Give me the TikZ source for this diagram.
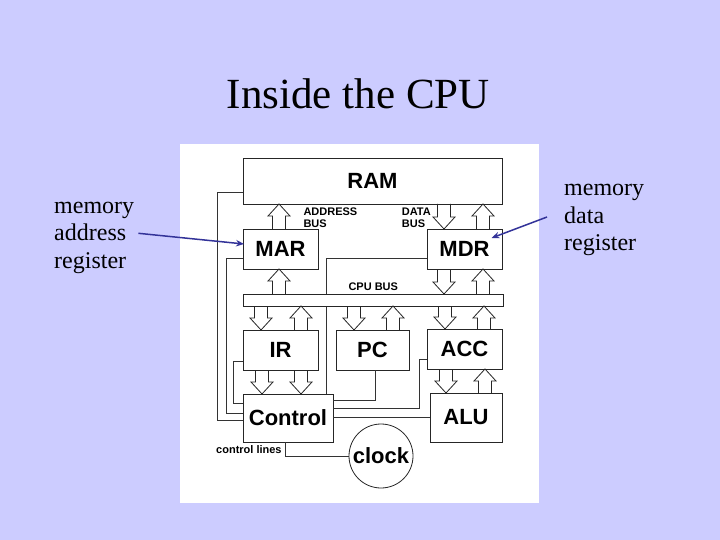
\documentclass[tikz,border=0pt]{standalone}
\usepackage{fontspec}
\setmainfont{Liberation Serif}
\newfontfamily\hv{Liberation Sans}
\usetikzlibrary{calc,arrows.meta}
\definecolor{slidebg}{HTML}{CCCCFF}
\definecolor{navy}{HTML}{333399}
\tikzset{
  box/.style={draw=black!85, line width=0.8pt, fill=white, inner sep=0pt, outer sep=0pt,
    anchor=north west, font=\hv\bfseries\fontsize{22}{26}\selectfont},
  wire/.style={draw=black!80, line width=0.8pt},
  barr/.style={draw=black!85, line width=0.8pt, line join=miter},
  small/.style={inner sep=0pt, anchor=base west, font=\hv\bfseries\fontsize{11}{12.3}\selectfont},
  pointer/.style={draw=navy, line width=1.5pt, -{Stealth[length=8pt,width=6.5pt]}},
  side/.style={inner sep=0pt, font=\fontsize{24}{27.5}\selectfont}
}
\newcommand\barrow[3]{%
  \draw[barr] let \p1=(#2), \p2=(#3), \n1={(\y2>\y1)*2-1} in
   (#1pt-6.5pt,\y1) -- (#1pt-6.5pt,\y2-\n1*12pt) -- (#1pt-11pt,\y2-\n1*12pt) -- (#1pt,\y2)
   -- (#1pt+11pt,\y2-\n1*12pt) -- (#1pt+6.5pt,\y2-\n1*12pt) -- (#1pt+6.5pt,\y1);}
\begin{document}
\begin{tikzpicture}[x=1pt,y=-1pt]
\fill[slidebg] (0,0) rectangle (720,540);
\useasboundingbox (0,0) rectangle (720,540);
\fill[white] (180,144) rectangle (539,503);

\node[inner sep=0pt, anchor=base, font=\fontsize{43}{49}\selectfont] (title) at (358.3,108.3) {Inside the CPU};

% boxes
\node[box, minimum width=259pt, minimum height=46pt] (RAM) at (243,158) {RAM};
\node[box, minimum width=75pt, minimum height=40pt] (MAR) at (243,229) {MAR};
\node[box, minimum width=75pt, minimum height=40pt] (MDR) at (427,229) {MDR};
\node[box, minimum width=75pt, minimum height=40pt] (IR) at (243,330) {IR};
\node[box, minimum width=73pt, minimum height=40pt] (PC) at (336,330) {PC};
\node[box, minimum width=75pt, minimum height=40pt] (ACC) at (427,329) {ACC};
\node[box, minimum width=90pt, minimum height=48pt] (Control) at (243,394) {Control};
\node[box, minimum width=72pt, minimum height=49pt] (ALU) at (430,393) {ALU};
\node[box, circle, anchor=center, minimum size=64pt] (clock) at (381,456) {clock};

% wires
\draw[wire] ($(RAM.north west)+(0,34)$) -- (217,192) -- (217,420) -- ($(Control.north west)+(0,26)$);
\draw[wire] ($(MAR.north west)+(0,29)$) -- (226,258) -- (226,413) -- ($(Control.north west)+(0,19)$);
\draw[wire] ($(IR.north west)+(0,31)$) -- (233,361) -- (233,403) -- ($(Control.north west)+(0,9)$);
\draw[wire] ($(MDR.north west)+(0,29)$) -- (326,258) -- ($(Control.north west)+(83,0)$);
\draw[wire] ($(PC.south west)+(39,0)$) -- (375,400) -- ($(Control.north east)+(0,6)$);
\draw[wire] ($(ACC.north west)+(0,30)$) -- (419,359) -- (419,408) -- ($(Control.north east)+(0,14)$);
\draw[wire] ($(ALU.north west)+(0,24)$) -- ($(Control.north east)+(0,23)$);
\draw[wire] ($(Control.south west)+(42,0)$) -- (285,456) -- (clock.west);

% CPU bus (drawn over the wire that passes behind it)
\node[box, minimum width=260pt, minimum height=12pt] (bus) at (243,294) {};

% block arrows
\barrow{279}{MAR.north}{RAM.south}
\barrow{444}{RAM.south}{MDR.north}
\barrow{483}{MDR.north}{RAM.south}
\barrow{279}{bus.north}{MAR.south}
\barrow{444}{MDR.south}{bus.north}
\barrow{483}{bus.north}{MDR.south}
\barrow{261}{bus.south}{IR.north}
\barrow{301}{IR.north}{bus.south}
\barrow{354}{bus.south}{PC.north}
\barrow{393}{PC.north}{bus.south}
\barrow{445}{bus.south}{ACC.north}
\barrow{484}{ACC.north}{bus.south}
\barrow{262}{IR.south}{Control.north}
\barrow{301}{IR.south}{Control.north}
\barrow{446}{ACC.south}{ALU.north}
\barrow{485}{ALU.north}{ACC.south}

% small labels
\node[small] (addr) at (303.3,215.7) {\begin{tabular}[t]{@{}l@{}}ADDRESS\\BUS\end{tabular}};
\node[small] (data) at (401.7,215.7) {\begin{tabular}[t]{@{}l@{}}DATA\\BUS\end{tabular}};
\node[small] (cpubus) at (348.3,290.7) {CPU BUS};
\node[small] (ctl) at (216,453.3) {control lines};

% side labels
\node[side, anchor=base west] (marlbl) at (54,213.3) {\begin{tabular}[t]{@{}l@{}}memory\\address\\register\end{tabular}};
\node[side, anchor=base west] (mdrlbl) at (564,196) {\begin{tabular}[t]{@{}l@{}}memory\\data\\register\end{tabular}};
\draw[pointer] ([xshift=4pt,yshift=2pt]marlbl.east) -- ($(MAR.west)+(1,-5)$);
\draw[pointer] ([xshift=-17pt,yshift=1pt]mdrlbl.west) -- ($(MDR.center)+(27,-11)$);
\end{tikzpicture}
\end{document}
